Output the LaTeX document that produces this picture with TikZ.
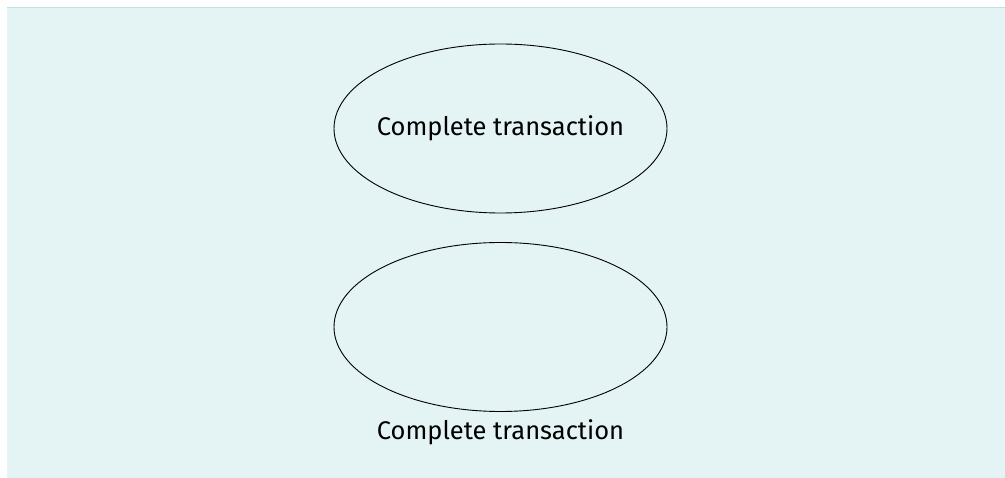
\documentclass[tikz,border=0pt]{standalone}
\usepackage{fontspec}
\setmainfont{Fira Sans}
\usetikzlibrary{shapes.geometric}
\definecolor{panelfill}{HTML}{E4F3F4}
\definecolor{panelline}{HTML}{BFE2E6}
\tikzset{
  usecase/.style={ellipse, draw=black, line width=0.9pt, minimum width=333pt, minimum height=169pt, inner sep=0pt},
  caption/.style={font=\fontsize{25.5}{30}\selectfont, text=black, inner sep=0pt},
}
\begin{document}
\begin{tikzpicture}[x=1pt,y=-1pt]
  \useasboundingbox (0,0) rectangle (1005,478);
  % panel background
  \fill[panelfill] (7,7) rectangle (1005,478);
  \draw[panelline, line width=1pt] (7,7.5) -- (1005,7.5);
  % use case with the label inside
  \node[usecase] (uc1) at (500.5,128.5) {};
  \node[caption] (t1) at (uc1.center) {Complete transaction};
  % use case with the label below
  \node[usecase] (uc2) at (500.5,327) {};
  \node[caption] (t2) at ([yshift=-20.5pt]uc2.south) {Complete transaction};
\end{tikzpicture}
\end{document}
